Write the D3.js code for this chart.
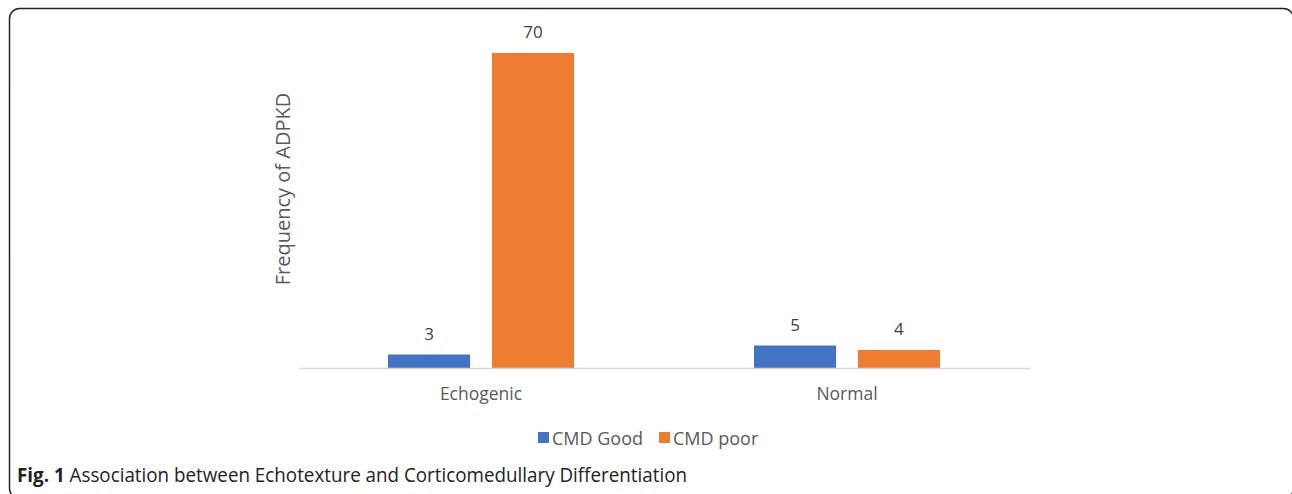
<!DOCTYPE html>
<html><head><meta charset="utf-8">
<script src="https://cdn.jsdelivr.net/npm/d3@7"></script>
<style>body{margin:0;background:#fff}svg{display:block}</style>
</head><body>
<script>
const categories = ["Echogenic", "Normal"];
const seriesNames = ["CMD Good", "CMD poor"];
const cmdGood = [3, 5];
const cmdPoor = [70, 4];
const colors = ["#4472C4", "#ED7D31"];
const yTitle = "Frequency of ADPKD";
const captionBold = "Fig. 1";
const captionText = "Association between Echotexture and Corticomedullary Differentiation";

const W = 1292, H = 494;
const svg = d3.select("body").append("svg").attr("width", W).attr("height", H);
const font = "'Open Sans', sans-serif";

// frame
svg.append("rect").attr("x", 9.5).attr("y", 8.5).attr("width", 1284).attr("height", 490)
  .attr("rx", 10).attr("fill", "none").attr("stroke", "#222").attr("stroke-width", 1.5);

const x0 = d3.scaleBand().domain(categories).range([298, 1030]);
const x1 = d3.scaleBand().domain(seriesNames).range([0, 186]).paddingInner(0.21);
const y = d3.scaleLinear().domain([0, 70]).range([368, 53]);

const data = categories.map((c, i) => ({cat: c, vals: [cmdGood[i], cmdPoor[i]]}));

const g = svg.append("g");
const groups = g.selectAll("g.grp").data(data).join("g")
  .attr("transform", d => `translate(${x0(d.cat) + x0.bandwidth()/2 - 93},0)`);
groups.selectAll("rect").data(d => d.vals.map((v, j) => ({s: seriesNames[j], v, j}))).join("rect")
  .attr("x", d => x1(d.s)).attr("width", x1.bandwidth())
  .attr("y", d => y(d.v)).attr("height", d => y(0) - y(d.v))
  .attr("fill", d => colors[d.j]);
groups.selectAll("text").data(d => d.vals.map((v, j) => ({s: seriesNames[j], v, j}))).join("text")
  .attr("x", d => x1(d.s) + x1.bandwidth()/2).attr("y", d => y(d.v) - 15)
  .attr("text-anchor", "middle").attr("font-family", font).attr("font-size", 17)
  .attr("fill", "#404040").text(d => d.v);

// axis
const xAxis = svg.append("g").attr("transform", "translate(0,368)")
  .call(d3.axisBottom(x0).tickSize(0).tickPadding(20));
xAxis.select(".domain").attr("stroke", "#d9d9d9").attr("stroke-width", 1.3);
xAxis.selectAll("text").attr("font-family", font).attr("font-size", 17.5).attr("fill", "#595959");

// y title
svg.append("text").attr("transform", "translate(290,189) rotate(-90)")
  .attr("text-anchor", "middle").attr("font-family", font).attr("font-size", 20)
  .attr("fill", "#595959").text(yTitle);

// legend
const leg = svg.append("g").attr("transform", "translate(538,432)");
const items = leg.selectAll("g").data(seriesNames).join("g")
  .attr("transform", (d, i) => `translate(${i * 121},0)`);
items.append("rect").attr("width", 11).attr("height", 11).attr("fill", (d, i) => colors[i]);
items.append("text").attr("x", 14).attr("y", 12.5).attr("font-family", font).attr("font-size", 18)
  .attr("fill", "#595959").text(d => d);

// caption
const cap = svg.append("text").attr("x", 17).attr("y", 482).attr("font-family", font)
  .attr("font-size", 20).attr("fill", "#222")
  .attr("textLength", 670).attr("lengthAdjust", "spacingAndGlyphs");
cap.append("tspan").attr("font-weight", "bold").text(captionBold);
cap.append("tspan").text(" " + captionText);
</script>
</body></html>
